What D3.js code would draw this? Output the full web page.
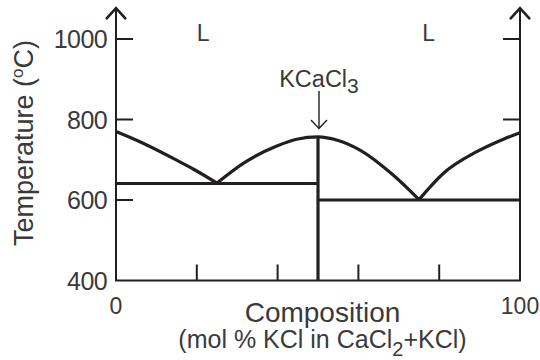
<!DOCTYPE html>
<html>
<head>
  <meta http-equiv="Content-Type" content="text/html;charset=utf-8" />
  <style type="text/css">
    body { margin: 0; background: #fff; }
    text { font-family: "Liberation Sans", Arial, Helvetica, sans-serif; fill: #3a3a3a; }
  </style>
</head>
<body>
  <div id="svgContainer"></div>
  <script src="https://d3js.org/d3.v7.min.js"></script>
  <script type="text/javascript">
    // data (composition in mol % KCl, temperature in oC)
    var leftLiqX = [0, 6.7, 15, 19.1, 25];
    var leftLiqT = [770, 741, 699, 677, 642];
    var domeX = [25, 31.5, 39.8, 44.7, 50, 55, 60.4, 68.6, 75];
    var domeT = [642, 691, 734, 751, 757, 748, 724, 662, 601];
    var rightLiqX = [75, 81, 89.3, 95.9, 100];
    var rightLiqT = [601, 666, 720, 751, 767];
    var eutecticLeft = { x0: 0, x1: 50, t: 641 };
    var eutecticRight = { x0: 50, x1: 100, t: 600 };
    var compoundX = 50, compoundT = 757;

    var yTicks = [400, 600, 800, 1000];
    var yTickLabels = ["400", "600", "800", "1000"];
    var xTicks = [20, 40, 60, 80];
    var xEndLabels = [{ v: 0, s: "0" }, { v: 100, s: "100" }];

    var w = 540, h = 360;
    var ink = "#231f20";

    var svg = d3.select("#svgContainer")
      .append("svg")
      .attr("width", w)
      .attr("height", h);

    var x = d3.scaleLinear().domain([0, 100]).range([116, 520]);
    var y = d3.scaleLinear().domain([400, 1000]).range([280.5, 39]);
    var yTop = 1078; // where the axis arrows end

    var line = d3.line()
      .x(function (d) { return x(d[0]); })
      .y(function (d) { return y(d[1]); })
      .curve(d3.curveMonotoneX);

    // axes
    var axes = svg.append("g").attr("stroke", ink).attr("fill", "none").attr("stroke-width", 2);
    axes.append("line").attr("x1", x(0)).attr("x2", x(0)).attr("y1", y(400)).attr("y2", y(yTop));
    axes.append("line").attr("x1", x(100)).attr("x2", x(100)).attr("y1", y(400)).attr("y2", y(yTop));
    axes.append("line").attr("x1", x(0) - 1).attr("x2", x(100) + 1).attr("y1", y(400)).attr("y2", y(400));

    [0, 100].forEach(function (v) {
      axes.append("path")
        .attr("stroke-width", 2.6)
        .attr("d", "M" + (x(v) - 10) + "," + (y(yTop) + 11.5) + "L" + x(v) + "," + (y(yTop) + 0.5) + "L" + (x(v) + 10) + "," + (y(yTop) + 11.5));
    });

    // y ticks on both sides, pointing inward
    yTicks.slice(1).forEach(function (t) {
      axes.append("line").attr("x1", x(0)).attr("x2", x(0) + 17).attr("y1", y(t)).attr("y2", y(t));
      axes.append("line").attr("x1", x(100)).attr("x2", x(100) - 17).attr("y1", y(t)).attr("y2", y(t));
    });
    xTicks.forEach(function (v) {
      axes.append("line").attr("x1", x(v)).attr("x2", x(v)).attr("y1", y(400)).attr("y2", y(400) - 16);
    });

    // tick labels
    svg.selectAll(".ylab").data(yTicks).enter().append("text")
      .attr("x", x(0) - 9)
      .attr("y", function (d) { return y(d) + 9; })
      .attr("text-anchor", "end")
      .attr("font-size", 25)
      .attr("letter-spacing", -0.6)
      .text(function (d, i) { return yTickLabels[i]; });

    svg.selectAll(".xlab").data(xEndLabels).enter().append("text")
      .attr("x", function (d) { return x(d.v); })
      .attr("y", 313.5)
      .attr("text-anchor", "middle")
      .attr("font-size", 23)
      .text(function (d) { return d.s; });

    // phase boundaries
    var g = svg.append("g").attr("stroke", ink).attr("fill", "none").attr("stroke-width", 3.2);
    [[leftLiqX, leftLiqT], [domeX, domeT], [rightLiqX, rightLiqT]].forEach(function (s) {
      g.append("path").attr("d", line(d3.zip(s[0], s[1])));
    });
    [eutecticLeft, eutecticRight].forEach(function (e) {
      g.append("line").attr("x1", x(e.x0)).attr("x2", x(e.x1)).attr("y1", y(e.t)).attr("y2", y(e.t));
    });
    g.append("line").attr("x1", x(compoundX)).attr("x2", x(compoundX))
      .attr("y1", y(compoundT)).attr("y2", y(400));

    // compound label and arrow
    var cx = x(compoundX) + 1;
    var lab = svg.append("text").attr("x", cx).attr("y", 87.3)
      .attr("text-anchor", "middle").attr("font-size", 23.5);
    lab.append("tspan").text("KCaCl");
    lab.append("tspan").attr("font-size", 21).attr("dy", 6).text("3");
    var arr = svg.append("g").attr("stroke", ink).attr("fill", "none").attr("stroke-width", 1.4);
    arr.append("line").attr("x1", cx).attr("x2", cx).attr("y1", 91).attr("y2", 128.5);
    arr.append("path").attr("d", "M" + (cx - 8) + ",120L" + cx + ",128.5L" + (cx + 8) + ",120");

    // liquid region labels
    svg.append("text").attr("x", x(20)).attr("y", 40.7).attr("font-size", 23).text("L");
    svg.append("text").attr("x", x(75.8)).attr("y", 40.7).attr("font-size", 23).text("L");

    // axis titles
    var yt = svg.append("text")
      .attr("transform", "translate(33,143) rotate(-90)")
      .attr("text-anchor", "middle")
      .attr("font-size", 27);
    yt.append("tspan").text("Temperature (");
    yt.append("tspan").attr("font-size", 17).attr("dy", -10).text("o");
    yt.append("tspan").attr("dy", 10).text("C)");

    svg.append("text").attr("x", 322.5).attr("y", 321.7)
      .attr("text-anchor", "middle").attr("font-size", 28).text("Composition");
    var st = svg.append("text").attr("x", 322.5).attr("y", 348)
      .attr("text-anchor", "middle").attr("font-size", 25);
    st.append("tspan").text("(mol % KCl in CaCl");
    st.append("tspan").attr("font-size", 20).attr("dy", 7.5).text("2");
    st.append("tspan").attr("dy", -7.5).text("+KCl)");
  </script>
</body>
</html>
